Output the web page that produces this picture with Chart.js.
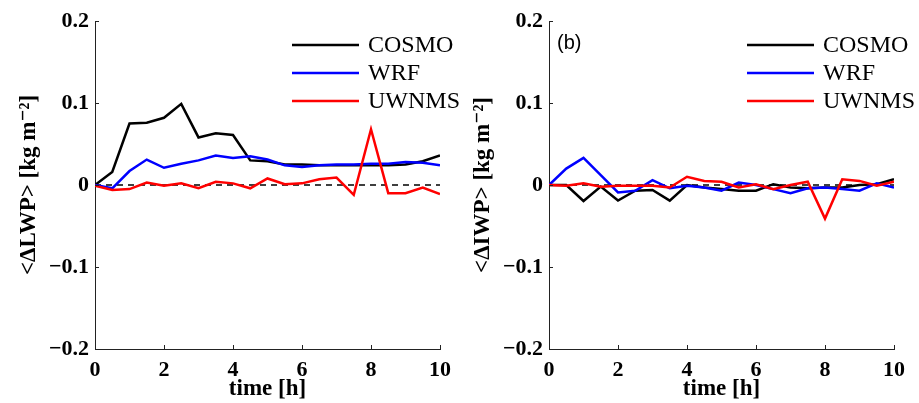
<!DOCTYPE html>
<html lang="en">
<head>
    <meta charset="UTF-8">
    <title>LWP / IWP differences</title>
    <script src="https://cdn.jsdelivr.net/npm/chart.js"></script>
    <style>
        body { margin: 0; background: #fff; }
        .panel { position: absolute; top: 0; height: 403px; }
        #left { left: 0; width: 460px; }
        #right { left: 460px; width: 459px; }
    </style>
</head>
<body>
    <div class="panel" id="left"><canvas id="lwpChart" width="460" height="403"></canvas></div>
    <div class="panel" id="right"><canvas id="iwpChart" width="459" height="403"></canvas></div>

    <script>
        // time axis, half-hour output
        const times = [0, 0.5, 1, 1.5, 2, 2.5, 3, 3.5, 4, 4.5, 5, 5.5, 6, 6.5, 7, 7.5, 8, 8.5, 9, 9.5, 10];
        const xTicks = [0, 2, 4, 6, 8, 10];
        const yTicks = [-0.2, -0.1, 0, 0.1, 0.2];
        const modelNames = ['COSMO', 'WRF', 'UWNMS'];

        // (a) <dLWP>
        const lwpCosmo = [0, 0.016, 0.075, 0.076, 0.082, 0.099, 0.058, 0.063, 0.061, 0.030, 0.029, 0.025, 0.025, 0.024, 0.024, 0.024, 0.024, 0.024, 0.025, 0.029, 0.036];
        const lwpWrf   = [0, -0.004, 0.017, 0.031, 0.021, 0.026, 0.030, 0.036, 0.033, 0.035, 0.031, 0.024, 0.022, 0.024, 0.025, 0.025, 0.026, 0.026, 0.028, 0.027, 0.024];
        const lwpUwnms = [-0.001, -0.006, -0.005, 0.003, -0.001, 0.002, -0.004, 0.004, 0.002, -0.004, 0.008, 0.001, 0.002, 0.007, 0.009, -0.012, 0.068, -0.010, -0.010, -0.003, -0.011];

        // (b) <dIWP>
        const iwpCosmo = [0, 0, -0.0195, -0.002, -0.019, -0.007, -0.006, -0.019, 0, -0.003, -0.005, -0.007, -0.007, 0.001, -0.003, -0.004, -0.003, -0.003, 0, 0.001, 0.007];
        const iwpWrf   = [0, 0.020, 0.033, 0.012, -0.009, -0.007, 0.006, -0.004, -0.001, -0.003, -0.007, 0.003, 0, -0.005, -0.010, -0.004, -0.003, -0.005, -0.007, 0.002, -0.003];
        const iwpUwnms = [0, -0.001, 0.002, -0.002, -0.001, -0.001, -0.001, -0.003, 0.010, 0.005, 0.004, -0.003, 0.001, -0.005, 0, 0.004, -0.041, 0.007, 0.005, -0.001, 0.004];

        const colors = ['#000000', '#0000ff', '#ff0000'];
        const serif = '"Liberation Serif", "DejaVu Serif", serif';

        function pts(vals) {
            return vals.map((v, i) => ({ x: times[i], y: v }));
        }

        function fmtTick(v) {
            if (Math.abs(v) < 1e-9) return '0';
            return (v < 0 ? '\u2212' : '') + Math.abs(v).toFixed(1);
        }

        // inward tick marks, MATLAB style
        const innerTicks = {
            id: 'innerTicks',
            afterDraw(chart) {
                const ctx = chart.ctx, x = chart.scales.x, y = chart.scales.y;
                const a = chart.chartArea;
                ctx.save();
                ctx.strokeStyle = '#222';
                ctx.lineWidth = 1;
                ctx.beginPath();
                xTicks.forEach(t => {
                    const px = Math.round(x.getPixelForValue(t)) + 0.5;
                    ctx.moveTo(px, a.bottom); ctx.lineTo(px, a.bottom - 4);
                });
                yTicks.forEach(t => {
                    const py = Math.round(y.getPixelForValue(t)) + 0.5;
                    ctx.moveTo(a.left, py); ctx.lineTo(a.left + 4, py);
                });
                ctx.stroke();
                ctx.restore();
            }
        };

        // legend in the top right corner + panel tag
        const cornerLegend = {
            id: 'cornerLegend',
            afterDraw(chart, args, opts) {
                const ctx = chart.ctx;
                ctx.save();
                chart.data.datasets.filter(d => d.inLegend).forEach((d, i) => {
                    const yy = opts.top + i * 28;
                    ctx.strokeStyle = d.borderColor;
                    ctx.lineWidth = 2.5;
                    ctx.beginPath();
                    ctx.moveTo(opts.x0, yy); ctx.lineTo(opts.x1, yy);
                    ctx.stroke();
                    ctx.fillStyle = '#000';
                    ctx.font = '24px ' + serif;
                    ctx.textBaseline = 'middle';
                    ctx.fillText(d.label, opts.x1 + 9, yy + 1);
                });
                if (opts.tag) {
                    ctx.font = '20px "Liberation Sans", Arial, sans-serif';
                    ctx.textBaseline = 'middle';
                    ctx.fillText(opts.tag, opts.tagX, 43);
                }
                ctx.restore();
            }
        };

        function makeChart(id, series, yTitle, axisW, padRight, legendPos) {
            const datasets = series.map((vals, i) => ({
                label: modelNames[i],
                data: pts(vals),
                borderColor: colors[i],
                borderWidth: 2.5,
                pointRadius: 0,
                tension: 0,
                inLegend: true,
                order: 3 - i
            }));
            datasets.push({
                label: 'zero',
                data: [{ x: 0, y: 0 }, { x: 10, y: 0 }],
                borderColor: '#000',
                borderWidth: 1.3,
                borderDash: [6, 5],
                pointRadius: 0,
                order: 4
            });

            return new Chart(document.getElementById(id), {
                type: 'line',
                data: { datasets },
                options: {
                    responsive: false,
                    animation: false,
                    layout: { padding: { top: 21, right: padRight, left: 0, bottom: 0 } },
                    plugins: {
                        legend: { display: false },
                        tooltip: { enabled: false },
                        cornerLegend: legendPos
                    },
                    scales: {
                        x: {
                            type: 'linear', min: 0, max: 10,
                            afterFit: s => { s.height = 54; },
                            afterBuildTicks: s => { s.ticks = xTicks.map(v => ({ value: v })); },
                            grid: { display: false, drawTicks: false },
                            border: { display: true, color: '#222', width: 1 },
                            ticks: { color: '#000', padding: 8, font: { family: serif, size: 22, weight: 'bold' } },
                            title: { display: true, text: 'time [h]', color: '#000', padding: { top: -2, bottom: 0 },
                                     font: { family: serif, size: 23, weight: 'bold' } }
                        },
                        y: {
                            min: -0.2, max: 0.2,
                            afterFit: s => { s.width = axisW; },
                            afterBuildTicks: s => { s.ticks = yTicks.map(v => ({ value: v })); },
                            grid: { display: false, drawTicks: false },
                            border: { display: true, color: '#222', width: 1 },
                            ticks: { color: '#000', padding: 6, callback: fmtTick,
                                     font: { family: serif, size: 22, weight: 'bold' } },
                            title: { display: true, text: yTitle, color: '#000', padding: { top: legendPos.titlePad, bottom: 0 },
                                     font: { family: serif, size: 23, weight: 'bold' } }
                        }
                    }
                },
                plugins: [innerTicks, cornerLegend]
            });
        }

        makeChart('lwpChart', [lwpCosmo, lwpWrf, lwpUwnms], '<\u0394LWP> [kg m\u207B\u00B2]', 95, 20,
                  { x0: 292, x1: 359, top: 45, titlePad: 15 });
        makeChart('iwpChart', [iwpCosmo, iwpWrf, iwpUwnms], '<\u0394IWP> [kg m\u207B\u00B2]', 89, 25,
                  { x0: 287, x1: 354, top: 45, titlePad: 9, tag: '(b)', tagX: 97 });
    </script>
</body>
</html>
